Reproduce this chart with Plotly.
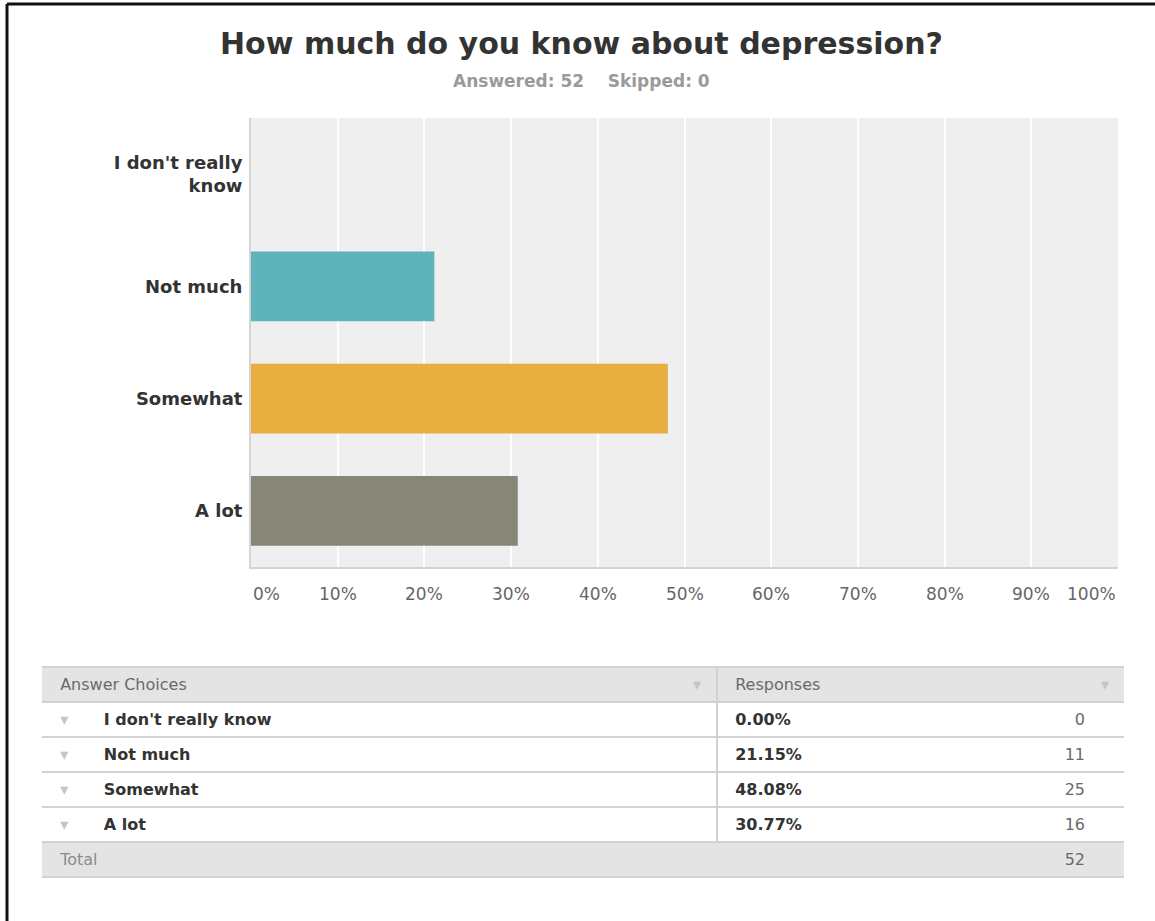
import plotly.graph_objects as go

# ---------------- data ----------------
title_text = "How much do you know about depression?"
answered = 52
skipped = 0
choices = ["I don't really know", "Not much", "Somewhat", "A lot"]
axis_labels = ["I don't really<br>know", "Not much", "Somewhat", "A lot"]
percents = [0.00, 21.15, 48.08, 30.77]
counts = [0, 11, 25, 16]
total = 52
tick_vals = [0, 10, 20, 30, 40, 50, 60, 70, 80, 90, 100]
tick_text = ["0%", "10%", "20%", "30%", "40%", "50%", "60%", "70%", "80%", "90%", "100%"]

# ---------------- styles ----------------
bar_colors = ["#5fb3ba", "#5fb3ba", "#e9ae40", "#878677"]
FONT = "DejaVu Sans"
W, H = 1155, 921


def px(x):
    return x / W


def py(y):
    return 1 - y / H


fig = go.Figure()

fig.add_trace(go.Bar(
    x=percents, y=axis_labels, orientation="h",
    marker=dict(color=bar_colors, line=dict(width=0)),
    width=0.62, hoverinfo="x+y", showlegend=False,
))

# ---------------- table ----------------
NB = "\u00a0"
n_rows = len(choices) + 1
caret = "<span style='color:#c4c4c4'>▾</span>"
col_choice = [NB * 2 + caret + NB * 7 + "<b>" + c.replace(" ", NB) + "</b>" for c in choices] + \
    [NB * 2 + "<span>Total</span>"]
col_gap = [""] * n_rows
col_pct = [NB * 2 + f"<b>{p:.2f}%</b>" for p in percents] + [""]
col_cnt = [f"<span>{c}</span>" for c in counts] + [f"<span>{total}</span>"]
col_end = [""] * n_rows
row_fill = ["#ffffff"] * len(choices) + ["#e4e4e4"]
choice_colors = ["#333333"] * len(choices) + ["#8c8c8c"]

HDR_H, ROW_H = 35, 35
TABLE_TOP = 667
fig.add_trace(go.Table(
    domain=dict(x=[px(42), px(1124)], y=[py(890), py(TABLE_TOP)]),
    columnwidth=[643, 32, 183, 193, 31],
    header=dict(
        values=[NB * 2 + "<span>Answer" + NB + "Choices</span>", "<span>▾</span>",
                NB * 2 + "<span>Responses</span>", "", "<span>▾</span>"],
        fill=dict(color="#e4e4e4"),
        line=dict(color="rgba(0,0,0,0)", width=0),
        align=["left", "left", "left", "right", "left"],
        font=dict(family=FONT, size=16,
                  color=["#6a6a6a", "#c4c4c4", "#6a6a6a", "#6a6a6a", "#c4c4c4"]),
        height=HDR_H,
    ),
    cells=dict(
        values=[col_choice, col_gap, col_pct, col_cnt, col_end],
        fill=dict(color=[row_fill] * 5),
        line=dict(color="rgba(0,0,0,0)", width=0),
        align=["left", "left", "left", "right", "left"],
        font=dict(family=FONT, size=16,
                  color=[choice_colors, "#333333", "#333333", "#6a6a6a", "#333333"]),
        height=ROW_H,
    ),
))

# table rule lines
shapes = []
row_edges = [TABLE_TOP, TABLE_TOP + HDR_H] + \
    [TABLE_TOP + HDR_H + ROW_H * (i + 1) for i in range(n_rows)]
for yv in row_edges:
    shapes.append(dict(type="line", xref="paper", yref="paper",
                       x0=px(42), x1=px(1124), y0=py(yv), y1=py(yv),
                       line=dict(color="#d2d2d2", width=2)))
shapes.append(dict(type="line", xref="paper", yref="paper",
                   x0=px(717), x1=px(717), y0=py(TABLE_TOP),
                   y1=py(TABLE_TOP + HDR_H + ROW_H * len(choices)),
                   line=dict(color="#d2d2d2", width=2)))
# outer frame (black border of screenshot)
shapes.append(dict(type="line", xref="paper", yref="paper",
                   x0=px(7), x1=1, y0=py(4), y1=py(4),
                   line=dict(color="#111111", width=3)))
shapes.append(dict(type="line", xref="paper", yref="paper",
                   x0=px(7), x1=px(7), y0=py(4), y1=0,
                   line=dict(color="#111111", width=3)))

# ---------------- annotations ----------------
annotations = [
    dict(text=f"<b>{title_text}</b>", x=px(581), y=py(43), xref="paper", yref="paper",
         showarrow=False, xanchor="center", yanchor="middle",
         font=dict(family=FONT, size=30, color="#333333")),
    dict(text=f"<b>Answered: {answered}{NB*4}Skipped: {skipped}</b>", x=px(581), y=py(81),
         xref="paper", yref="paper", showarrow=False, xanchor="center", yanchor="middle",
         font=dict(family=FONT, size=17, color="#9a9a9a")),
]
for i, (v, t) in enumerate(zip(tick_vals, tick_text)):
    anchor = "left" if i == 0 else ("right" if i == len(tick_vals) - 1 else "center")
    annotations.append(dict(text=t, x=v, y=py(594), xref="x", yref="paper",
                            showarrow=False, xanchor=anchor, yanchor="middle",
                            font=dict(family=FONT, size=17, color="#666666")))

fig.update_layout(
    width=W, height=H,
    margin=dict(l=0, r=0, t=0, b=0),
    paper_bgcolor="white",
    plot_bgcolor="#efefef",
    font=dict(family=FONT),
    xaxis=dict(domain=[px(251), px(1118)], range=[0, 100], tickvals=tick_vals,
               showticklabels=False, showgrid=True, gridcolor="#ffffff", gridwidth=2,
               zeroline=False, showline=True, linecolor="#d4d4d4", linewidth=2,
               fixedrange=True),
    yaxis=dict(domain=[py(567), py(118)], categoryorder="array",
               categoryarray=axis_labels, autorange="reversed",
               showgrid=False, zeroline=False, showline=True, linecolor="#d4d4d4",
               linewidth=2, ticks="", ticklabelstandoff=3,
               tickfont=dict(family=FONT, size=18, color="#333333", weight="bold"),
               fixedrange=True),
    bargap=0.38,
    shapes=shapes,
    annotations=annotations,
)

fig.write_html("out.html")
